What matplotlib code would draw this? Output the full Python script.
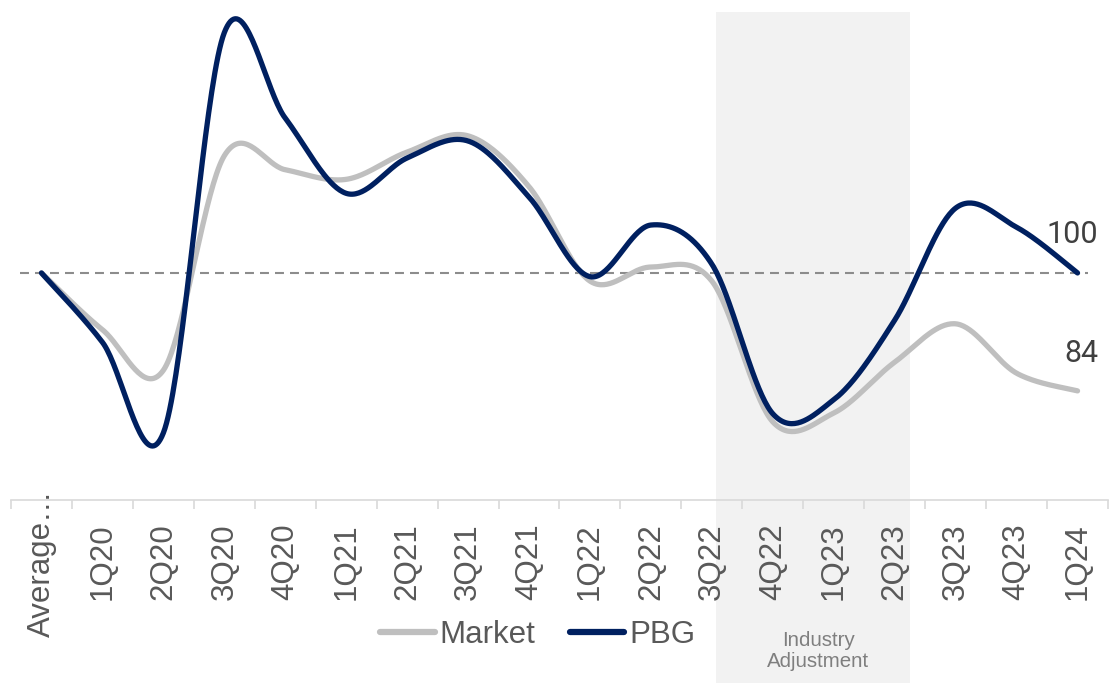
#%% IMPORTS
import numpy as np
import matplotlib
matplotlib.use('Agg')
from matplotlib import pyplot as plt
from matplotlib.patches import Rectangle
from matplotlib.transforms import blended_transform_factory

#%% DATA
quarters = ['Average…', '1Q20', '2Q20', '3Q20', '4Q20', '1Q21', '2Q21', '3Q21',
            '4Q21', '1Q22', '2Q22', '3Q22', '4Q22', '1Q23', '2Q23', '3Q23',
            '4Q23', '1Q24']

market = [100, 92.3, 86.8, 115.9, 114.0, 112.7, 116.4, 118.6, 111.7,
          98.9, 100.8, 98.9, 79.8, 81.0, 87.9, 93.1, 86.4, 84]

pbg = [100, 90.6, 78.3, 132.6, 121.0, 110.8, 115.6, 117.9, 110.3,
       99.5, 106.5, 101.2, 80.9, 82.8, 93.6, 108.8, 106.2, 100]

baseline = 100
band_span = (11.06, 14.25)   # industry adjustment period, in category units
band_label = 'Industry\nAdjustment'

#%% STYLE
navy = '#002060'
grey = '#bfbfbf'
text_grey = '#595959'
label_grey = '#404040'
font_main = ['Liberation Sans', 'DejaVu Sans']
font_lbl = ['Roboto', 'DejaVu Sans']


#%% HELPERS
def smooth(xs, ys, n=40):
    # bezier smoothing through every point (same idea as spreadsheet "smoothed line")
    pts = np.column_stack([xs, ys]).astype(float)
    ext = np.vstack([pts[0], pts, pts[-1]])
    out = []
    t = np.linspace(0, 1, n)[:, None]
    for i in range(len(pts) - 1):
        p0, p1, p2, p3 = ext[i], ext[i + 1], ext[i + 2], ext[i + 3]
        c1 = p1 + (p2 - p0) / 6.0
        c2 = p2 - (p3 - p1) / 6.0
        seg = ((1 - t) ** 3) * p1 + 3 * ((1 - t) ** 2) * t * c1 \
            + 3 * (1 - t) * t ** 2 * c2 + t ** 3 * p2
        out.append(seg if i == 0 else seg[1:])
    seg = np.vstack(out)
    return seg[:, 0], seg[:, 1]


#%% PLOT
fig = plt.figure(figsize=(11.1, 6.83), dpi=100)
ax = fig.add_axes([11 / 1110, 183 / 683, 1097 / 1110, 488 / 683])

x = np.arange(len(quarters))
ax.set_xlim(-0.5, len(quarters) - 0.5)
ax.set_ylim(69.2, 135.4)

# shaded period, running down through the label area
trans = blended_transform_factory(ax.transData, fig.transFigure)
band = Rectangle((band_span[0], 0), band_span[1] - band_span[0], 671 / 683,
                 transform=trans, facecolor='#f2f2f2', edgecolor='none',
                 zorder=0, clip_on=False)
ax.add_patch(band)

# reference line at 100
ax.plot([-0.35, 17.17], [baseline, baseline], color='#8c8c8c', lw=1.5,
        dashes=(4.3, 2.9), zorder=1)

mx, my = smooth(x, market)
px, py = smooth(x, pbg)
ax.plot(mx, my, color=grey, lw=3.8, solid_capstyle='round', label='Market', zorder=2)
ax.plot(px, py, color=navy, lw=3.8, solid_capstyle='round', label='PBG', zorder=3)

# end labels
ax.annotate(f'{pbg[-1]:.0f}', (x[-1], pbg[-1]), xytext=(15, 28),
            textcoords='offset points', ha='right', va='center',
            fontsize=22, color=label_grey, family=font_lbl)
ax.annotate(f'{market[-1]:.0f}', (x[-1], market[-1]), xytext=(15, 27),
            textcoords='offset points', ha='right', va='center',
            fontsize=22, color=label_grey, family=font_lbl)

# axes styling
for side in ['top', 'right', 'left']:
    ax.spines[side].set_visible(False)
ax.spines['bottom'].set_color('#d9d9d9')
ax.spines['bottom'].set_linewidth(1.2)
ax.set_yticks([])

# first label is truncated and sits higher, so it is drawn on its own
ax.set_xticks(x)
ax.set_xticklabels([''] + quarters[1:], rotation=90, fontsize=22.5,
                   color=text_grey, family=font_main)
ax.tick_params(axis='x', which='major', length=0, pad=16.5)
ax.set_xticks(np.arange(-0.5, len(quarters), 1.0), minor=True)
ax.tick_params(axis='x', which='minor', length=6.5, width=1.2, color='#d9d9d9')
ax.text(x[0], 193 / 683, quarters[0], transform=trans, rotation=90,
        ha='center', va='top', fontsize=22.5, color=text_grey, family=font_main)

fig.text(818 / 1110, 1 - 651 / 683, band_label, ha='center', va='center',
         fontsize=14.8, color='#7f7f7f', family=font_main, linespacing=1.1)

leg = fig.legend(loc='center', bbox_to_anchor=(537.5 / 1110, 48 / 683), ncol=2,
                 frameon=False, handlelength=1.75, handletextpad=0.15,
                 columnspacing=1.1, prop={'family': font_main, 'size': 22.5})
for t in leg.get_texts():
    t.set_color(text_grey)
for h in leg.get_lines():
    h.set_linewidth(4.5)

fig.savefig('out.png', dpi=100)
